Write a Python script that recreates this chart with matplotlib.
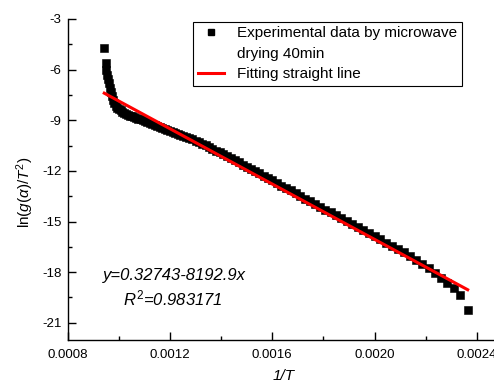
import matplotlib
matplotlib.use("Agg")
import matplotlib.pyplot as plt
from matplotlib.lines import Line2D
from matplotlib.ticker import MultipleLocator, FormatStrFormatter

plt.rcParams["font.family"] = ["Liberation Sans", "DejaVu Sans"]
plt.rcParams["mathtext.fontset"] = "custom"
plt.rcParams["mathtext.rm"] = "Liberation Sans"
plt.rcParams["mathtext.it"] = "Liberation Sans:italic"
plt.rcParams["axes.unicode_minus"] = False

# experimental points (1/T, ln(g(a)/T^2))
inv_t = [
    0.000943, 0.000948, 0.000951, 0.000954, 0.000957, 0.000960, 0.000964,
    0.000968, 0.000972, 0.000977, 0.000982, 0.000988, 0.000994, 0.001000,
    0.001007, 0.001014, 0.001021, 0.001028, 0.001036, 0.001044, 0.001052,
    0.001060, 0.001068, 0.001076, 0.001085, 0.001094, 0.001103, 0.001112,
    0.001121, 0.001130, 0.001140, 0.001150, 0.001160, 0.001170, 0.001180,
    0.001190, 0.001200, 0.001210, 0.001220, 0.001230, 0.001240, 0.001252,
    0.001264, 0.001276, 0.001288, 0.001300, 0.001313, 0.001326, 0.001339,
    0.001352, 0.001366, 0.001380, 0.001394, 0.001408, 0.001423, 0.001438,
    0.001453, 0.001468, 0.001484, 0.001500, 0.001516, 0.001532, 0.001549,
    0.001566, 0.001583, 0.001600, 0.001618, 0.001636, 0.001654, 0.001672,
    0.001691, 0.001710, 0.001729, 0.001748, 0.001768, 0.001788, 0.001808,
    0.001828, 0.001849, 0.001870, 0.001891, 0.001912, 0.001934, 0.001956,
    0.001978, 0.002000, 0.002023, 0.002046, 0.002069, 0.002092, 0.002115,
    0.002139, 0.002163, 0.002187, 0.002211, 0.002235, 0.002259, 0.002284,
    0.002309, 0.002335, 0.002364,
]
ln_g_t2 = [
    -4.73, -5.62, -6.00, -6.30, -6.58, -6.82, -7.08,
    -7.34, -7.58, -7.80, -7.98, -8.15, -8.27, -8.35,
    -8.42, -8.49, -8.56, -8.62, -8.68, -8.74, -8.78,
    -8.82, -8.86, -8.91, -8.95, -9.01, -9.06, -9.11,
    -9.17, -9.22, -9.28, -9.34, -9.41, -9.47, -9.53,
    -9.59, -9.64, -9.70, -9.75, -9.80, -9.85, -9.92,
    -9.99, -10.06, -10.14, -10.21, -10.30, -10.40, -10.49,
    -10.59, -10.69, -10.80, -10.91, -11.02, -11.14, -11.25,
    -11.38, -11.50, -11.63, -11.75, -11.88, -12.01, -12.15,
    -12.29, -12.43, -12.57, -12.72, -12.87, -13.01, -13.16,
    -13.32, -13.48, -13.64, -13.79, -13.96, -14.12, -14.29,
    -14.45, -14.62, -14.79, -14.97, -15.14, -15.32, -15.50,
    -15.68, -15.86, -16.05, -16.25, -16.43, -16.63, -16.83,
    -17.05, -17.27, -17.51, -17.77, -18.04, -18.33, -18.64,
    -18.95, -19.36, -20.22,
]

# fitted straight line y = a + b*x
fit_intercept = 0.32743
fit_slope = -8192.9
r_squared = 0.983171

x_ticks = [0.0008, 0.0012, 0.0016, 0.0020, 0.0024]
y_ticks = [-3, -6, -9, -12, -15, -18, -21]

fig = plt.figure(figsize=(4.94, 3.86), dpi=100)
ax = fig.add_axes([0.137, 0.12, 0.863, 0.831])

ax.plot(inv_t, ln_g_t2, linestyle="none", marker="s", markersize=5.3,
        color="black", markeredgewidth=0.4)

fit_x = [inv_t[0], inv_t[-1]]
fit_y = [fit_intercept + fit_slope * v for v in fit_x]
ax.plot(fit_x, fit_y, color="#ff0000", linewidth=2.2)

ax.set_xlim(0.0008, 0.002467)
ax.set_ylim(-22, -3)
ax.set_xticks(x_ticks)
ax.set_yticks(y_ticks)
ax.xaxis.set_major_formatter(FormatStrFormatter("%.4f"))
ax.xaxis.set_minor_locator(MultipleLocator(0.0002))
ax.yaxis.set_minor_locator(MultipleLocator(1.5))

for side in ("top", "right"):
    ax.spines[side].set_visible(False)
for side in ("left", "bottom"):
    ax.spines[side].set_linewidth(1.0)

ax.tick_params(which="major", direction="in", length=6, width=1.0,
               labelsize=9.5, pad=4.5)
ax.tick_params(axis="x", which="major", pad=6.5)
ax.tick_params(which="minor", direction="in", length=3, width=1.0)

ax.set_xlabel("1/T", fontsize=11, fontstyle="italic")
ax.xaxis.set_label_coords(0.507, -0.092)
ax.set_ylabel(r"ln($g(\alpha)/T^2$)", fontsize=11)
ax.yaxis.set_label_coords(-0.075, 0.46)

ax.text(0.2495, 0.199, f"y={fit_intercept}{fit_slope}x", transform=ax.transAxes,
        fontsize=12, fontstyle="italic", ha="center", va="center")
ax.text(0.246, 0.127, r"$R^2$=" + f"{r_squared}", transform=ax.transAxes,
        fontsize=12, fontstyle="italic", ha="center", va="center")

handles = [
    Line2D([], [], linestyle="none", marker="s", markersize=5, color="black"),
    Line2D([], [], linestyle="none"),
    Line2D([], [], color="#ff0000", linewidth=2.2),
]
labels = ["Experimental data by microwave", "drying 40min", "Fitting straight line"]
leg = ax.legend(handles, labels, loc="upper right", bbox_to_anchor=(0.925, 0.991),
                borderaxespad=0, fontsize=11, frameon=True, fancybox=False,
                edgecolor="black", framealpha=1, borderpad=0.3,
                labelspacing=0.42, handlelength=1.7, handletextpad=0.9)
leg.get_frame().set_linewidth(0.8)

fig.savefig("out.png", dpi=100)
